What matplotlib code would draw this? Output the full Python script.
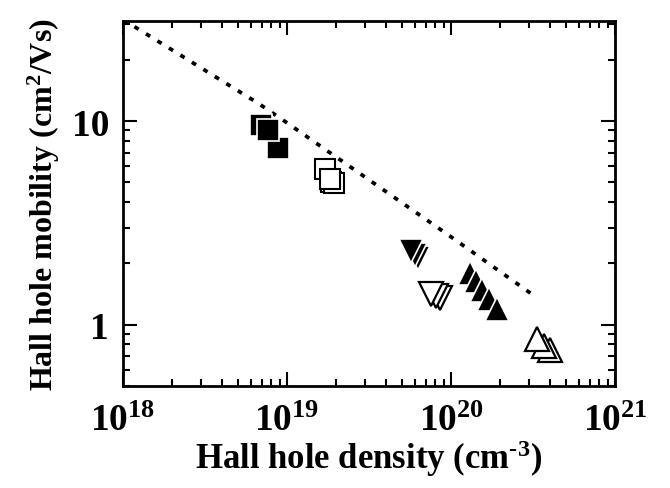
import matplotlib
matplotlib.use('Agg')
from matplotlib import pyplot as plt
from matplotlib.ticker import LogLocator, NullFormatter, FixedLocator, FixedFormatter

plt.rcParams['font.family'] = 'Liberation Serif'
plt.rcParams['font.weight'] = 'bold'
plt.rcParams['axes.labelweight'] = 'bold'
plt.rcParams['mathtext.fontset'] = 'custom'
plt.rcParams['mathtext.rm'] = 'Liberation Serif:bold'
plt.rcParams['mathtext.it'] = 'Liberation Serif:bold'
plt.rcParams['mathtext.bf'] = 'Liberation Serif:bold'

# filled squares
sq_fill_x = [6.9e18, 8.8e18, 7.7e18]
sq_fill_y = [9.6, 7.4, 9.0]
# open squares
sq_open_x = [1.85e19, 1.94e19, 1.71e19, 1.82e19]
sq_open_y = [5.0, 4.95, 5.8, 5.2]
# filled down triangles
tri_dn_fill_x = [6.3e19, 6.0e19, 5.7e19]
tri_dn_fill_y = [2.12, 2.19, 2.30]
# open down triangles
tri_dn_open_x = [8.6e19, 8.1e19, 7.55e19]
tri_dn_open_y = [1.35, 1.38, 1.42]
# filled up triangles
tri_up_fill_x = [1.31e20, 1.42e20, 1.55e20, 1.71e20, 1.91e20]
tri_up_fill_y = [1.79, 1.64, 1.48, 1.34, 1.20]
# open up triangles
tri_up_open_x = [4.0e20, 3.7e20, 3.34e20]
tri_up_open_y = [0.75, 0.79, 0.855]
# dotted reference line
line_x = [1e18, 6.7e18, 1e19, 1e20, 3.2e20]
line_y = [31.5, 12.2, 9.8, 2.7, 1.39]

fig = plt.figure(figsize=(6.7, 4.89), dpi=100)
ax = fig.add_axes([0.1836, 0.2086, 0.7344, 0.7464])

ax.plot(line_x, line_y, color='k', linestyle=(0, (1.3, 2.3)), linewidth=2.7, dash_capstyle='butt')

ax.plot(sq_fill_x, sq_fill_y, 's', ms=15.5, mfc='k', mec='w', mew=1.2, linestyle='none')
ax.plot(sq_open_x, sq_open_y, 's', ms=14, mfc='w', mec='k', mew=1.5, linestyle='none')
ax.plot(tri_dn_fill_x, tri_dn_fill_y, 'v', ms=17, mfc='k', mec='w', mew=1.2, linestyle='none')
ax.plot(tri_dn_open_x, tri_dn_open_y, 'v', ms=17, mfc='w', mec='k', mew=1.6, linestyle='none')
ax.plot(tri_up_fill_x, tri_up_fill_y, '^', ms=17, mfc='k', mec='w', mew=1.2, linestyle='none')
ax.plot(tri_up_open_x, tri_up_open_y, '^', ms=17, mfc='w', mec='k', mew=1.6, linestyle='none')

ax.set_xscale('log')
ax.set_yscale('log')
ax.set_xlim(1e18, 1e21)
ax.set_ylim(0.5, 31)

ax.xaxis.set_major_locator(FixedLocator([1e18, 1e19, 1e20, 1e21]))
ax.xaxis.set_major_formatter(FixedFormatter(['$10^{18}$', '$10^{19}$', '$10^{20}$', '$10^{21}$']))
ax.xaxis.set_minor_locator(LogLocator(base=10, subs=range(2, 10), numticks=20))
ax.xaxis.set_minor_formatter(NullFormatter())
ax.yaxis.set_major_locator(FixedLocator([1, 10]))
ax.yaxis.set_major_formatter(FixedFormatter(['1', '10']))
ax.yaxis.set_minor_locator(LogLocator(base=10, subs=range(2, 10), numticks=20))
ax.yaxis.set_minor_formatter(NullFormatter())

ax.tick_params(which='both', direction='in', top=True, right=True, width=1.5, labelsize=27)
ax.tick_params(axis='x', pad=12)
ax.tick_params(axis='y', pad=10)
ax.tick_params(which='major', length=10)
ax.tick_params(which='minor', length=5)
for s in ax.spines.values():
    s.set_linewidth(2)

ax.set_xlabel(r'Hall hole density (cm$^{\text{-3}}$)', fontsize=25, labelpad=0)
ax.set_ylabel('Hall hole mobility (cm$^{2}$/Vs)', fontsize=23, labelpad=7)

plt.savefig('out.png', dpi=100)
